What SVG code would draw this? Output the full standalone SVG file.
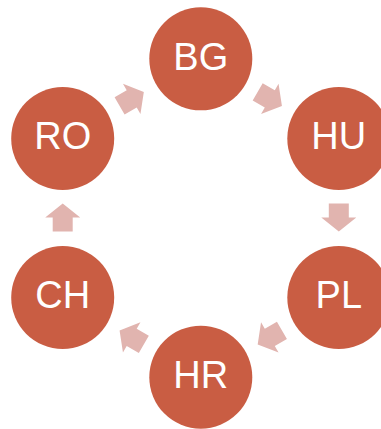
<svg xmlns="http://www.w3.org/2000/svg" width="381" height="429" viewBox="0 0 381 429">
<style>
.node{fill:#C95D43;}
.lbl{fill:#FFFFFF;font-family:"Liberation Sans",Arial,sans-serif;font-size:38px;text-anchor:middle;}
.arr{fill:#E1B4AF;}
</style>
<defs>
<path id="arrow" d="M-14,-10 L0,-10 L0,-17.5 L14,0 L0,17.5 L0,10 L-14,10 Z"/>
</defs>
<rect width="381" height="429" fill="#FFFFFF"/>
<g id="connectors">
<use href="#arrow" class="arr" transform="translate(131.7,98.9) rotate(-30)"/>
<use href="#arrow" class="arr" transform="translate(269.8,98.9) rotate(30)"/>
<use href="#arrow" class="arr" transform="translate(338.8,217.5) rotate(90)"/>
<use href="#arrow" class="arr" transform="translate(269.8,337.4) rotate(150)"/>
<use href="#arrow" class="arr" transform="translate(131.7,337.4) rotate(210)"/>
<use href="#arrow" class="arr" transform="translate(62.7,217.5) rotate(270)"/>
</g>
<g id="node-BG"><circle class="node" cx="200.8" cy="58.8" r="51.5"/><text class="lbl" x="200.8" y="69.5">BG</text></g>
<g id="node-HU"><circle class="node" cx="338.8" cy="138.5" r="51.5"/><text class="lbl" x="338.8" y="149.2">HU</text></g>
<g id="node-PL"><circle class="node" cx="338.8" cy="297.5" r="51.5"/><text class="lbl" x="338.8" y="308.2">PL</text></g>
<g id="node-HR"><circle class="node" cx="200.8" cy="377.2" r="51.5"/><text class="lbl" x="200.8" y="387.9">HR</text></g>
<g id="node-CH"><circle class="node" cx="62.7" cy="297.5" r="51.5"/><text class="lbl" x="62.7" y="308.2">CH</text></g>
<g id="node-RO"><circle class="node" cx="62.7" cy="138.5" r="51.5"/><text class="lbl" x="62.7" y="149.2">RO</text></g>
</svg>
